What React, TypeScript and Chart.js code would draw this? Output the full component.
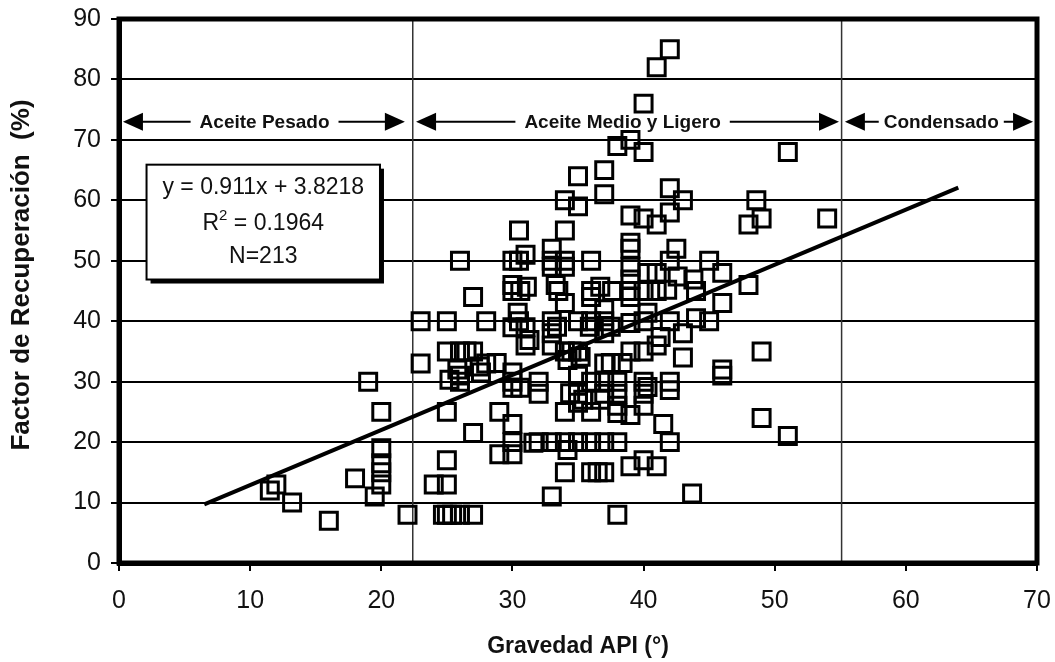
import { useEffect, useRef } from 'react';
import { Chart, registerables } from 'chart.js';

Chart.register(...registerables);

// ---- Data ----
const apiGravity = [
  11.5, 12, 13.2, 16, 18, 19, 19.5, 20, 20, 20, 20, 20, 22,
  23, 23, 24, 25, 25, 25, 25, 25, 25, 26, 26, 26, 26, 26, 26.5, 27, 27, 27, 27, 28, 28, 27.6, 29, 29,
  30, 30, 30, 30, 30, 30, 30, 30, 30, 30, 30.5, 30.5, 30.5, 30.6, 31, 31, 31, 32, 32, 32,
  33, 33, 33, 33, 33, 33, 33, 33, 33.3, 33.5, 34, 34, 34, 34, 34, 34, 34, 34, 34, 34.5, 35, 35, 35, 35, 35, 35, 35, 35,
  36, 36, 36, 36, 36, 36, 36, 36, 37, 37, 37, 37, 37, 37, 37, 37, 37, 37, 37.6, 38, 38, 38, 38, 38, 38,
  39, 39, 39, 39, 39, 39, 39, 39, 39, 39, 40, 40, 40, 40, 40, 40, 40, 40, 40, 40, 41, 41, 41, 41, 41, 41, 41.5,
  42, 42, 42, 42, 42, 42, 42, 42.5, 43, 43, 43, 43.7, 44, 44,
  45, 45, 46, 46, 46, 46, 48, 48, 48.6, 49, 49, 49, 51, 51, 54,
  39, 40.3, 42.6, 43.8, 41.8, 39, 40.3, 41.3, 40.3, 42,
  31.1, 36.7, 33.4, 35.9, 37.5, 28.8, 34.2, 35.2, 37.5, 38.4, 34.4, 35.4, 36.7, 38, 34.2,
  30.4, 25.8, 27.5, 25.2, 31.3, 30.6, 31.6, 36.5, 24.7, 25.4,
];
const recoveryFactor = [
  12, 13, 10, 7, 14, 30, 11, 25, 19, 16.5, 15, 13, 8,
  40, 33, 13, 40, 35, 25, 17, 13, 8, 8, 50, 35, 31, 30, 35, 44, 35, 21.5, 8, 40, 33, 31.5, 25, 18,
  46, 50, 45, 39, 31.5, 30, 29, 23, 20, 18, 55, 50, 40, 45, 51, 36, 39, 20, 28, 30,
  50, 52, 49, 40, 38, 36, 11, 20, 46, 45, 49, 50, 55, 60, 43, 35, 25, 15, 20, 35, 64, 59, 40, 35, 31, 28, 26.5, 20,
  15, 20, 50, 45, 44, 40, 30, 25, 65, 61, 42, 40, 38, 33, 30, 28, 20, 15, 45, 69, 30, 28, 26, 20, 8,
  70, 57.5, 53, 52, 49, 45, 35, 24.5, 16, 44, 76, 68, 57, 45, 40, 35, 30, 26, 17, 28, 82, 56, 48, 45, 36, 16, 23,
  85, 62, 58, 50, 40, 30, 20, 52, 60, 38, 34, 11.5, 45, 40.5,
  50, 40, 48, 43, 32, 31, 46, 56, 60, 57, 35, 24, 21, 68, 57,
  46.9, 48, 47.4, 46.9, 45.2, 39.7, 41.4, 37.4, 29.1, 28.6,
  45.7, 45.7, 39.1, 39.1, 39.1, 33.1, 33.6, 34.1, 33.1, 33.1, 28.1, 27, 27, 24.8, 18.7,
  41.4, 32, 32.5, 30.3, 36.9, 29, 19.9, 15, 8, 8,
];

// Regression line end points
const trendX = [6.5, 64];
const trendY = [9.7, 62.1];

// Axis ticks
const xTicks = [0, 10, 20, 30, 40, 50, 60, 70];
const yTicks = [0, 10, 20, 30, 40, 50, 60, 70, 80, 90];

// Axis titles
const xTitle = 'Gravedad API (°)';
const yTitle = 'Factor de Recuperación  (%)';

// Region annotations
const regionLabels = ['Aceite Pesado', 'Aceite Medio y Ligero', 'Condensado'];
const regionStart = [0.3, 22.65, 55.35];
const regionEnd = [21.8, 54.9, 69.7];
const regionCenter = [11.1, 38.4, 62.7];
const regionLevel = 73;
const boundaries = [22.4, 55.1];

// Equation box
const eqLine1 = 'y = 0.911x + 3.8218';
const eqLine2a = 'R';
const eqLine2sup = '2';
const eqLine2b = ' = 0.1964';
const eqLine3 = 'N=213';
const eqLineY = [62.1, 56.1, 50.7];
const eqBoxX = [2.1, 19.9];
const eqBoxY = [46.9, 65.9];

const FONT = '"Liberation Sans", Arial, Helvetica, sans-serif';

const annotPlugin = {
  id: 'annot',
  beforeDatasetsDraw(chart: any) {
    const { ctx, chartArea: ca, scales } = chart;
    const x = scales.x;
    const y = scales.y;
    ctx.save();
    // boundary lines
    ctx.strokeStyle = '#333';
    ctx.lineWidth = 1.5;
    boundaries.forEach((b) => {
      const px = x.getPixelForValue(b);
      ctx.beginPath();
      ctx.moveTo(px, ca.top);
      ctx.lineTo(px, ca.bottom);
      ctx.stroke();
    });

    // region arrows
    const py = y.getPixelForValue(regionLevel);
    ctx.font = `bold 19px ${FONT}`;
    ctx.textAlign = 'center';
    ctx.textBaseline = 'middle';
    regionLabels.forEach((label, i) => {
      const x1 = x.getPixelForValue(regionStart[i]);
      const x2 = x.getPixelForValue(regionEnd[i]);
      const cx = x.getPixelForValue(regionCenter[i]);
      ctx.strokeStyle = '#000';
      ctx.lineWidth = 2;
      ctx.beginPath();
      ctx.moveTo(x1 + 10, py);
      ctx.lineTo(x2 - 10, py);
      ctx.stroke();
      ctx.fillStyle = '#000';
      ctx.beginPath();
      ctx.moveTo(x1, py);
      ctx.lineTo(x1 + 20, py - 9);
      ctx.lineTo(x1 + 20, py + 9);
      ctx.closePath();
      ctx.fill();
      ctx.beginPath();
      ctx.moveTo(x2, py);
      ctx.lineTo(x2 - 20, py - 9);
      ctx.lineTo(x2 - 20, py + 9);
      ctx.closePath();
      ctx.fill();
      const w = ctx.measureText(label).width;
      const pad = i === 2 ? 5 : 9;
      ctx.fillStyle = '#fff';
      ctx.fillRect(cx - w / 2 - pad, py - 11, w + pad * 2, 22);
      ctx.fillStyle = '#111';
      ctx.fillText(label, cx, py + 1);
    });

    // equation box
    const bx1 = x.getPixelForValue(eqBoxX[0]);
    const bx2 = x.getPixelForValue(eqBoxX[1]);
    const by1 = y.getPixelForValue(eqBoxY[1]);
    const by2 = y.getPixelForValue(eqBoxY[0]);
    ctx.fillStyle = '#000';
    ctx.fillRect(bx1 + 4, by1 + 4, bx2 - bx1, by2 - by1);
    ctx.fillStyle = '#fff';
    ctx.fillRect(bx1, by1, bx2 - bx1, by2 - by1);
    ctx.strokeStyle = '#000';
    ctx.lineWidth = 2;
    ctx.strokeRect(bx1, by1, bx2 - bx1, by2 - by1);
    ctx.font = `23px ${FONT}`;
    ctx.fillStyle = '#111';
    const tcx = (bx1 + bx2) / 2;
    ctx.fillText(eqLine1, tcx, y.getPixelForValue(eqLineY[0]));
    ctx.fillText(eqLine3, tcx, y.getPixelForValue(eqLineY[2]));
    // R^2 line with a real superscript
    const wa = ctx.measureText(eqLine2a).width;
    const wb = ctx.measureText(eqLine2b).width;
    ctx.font = `15px ${FONT}`;
    const ws = ctx.measureText(eqLine2sup).width;
    const total = wa + ws + wb;
    const ly = y.getPixelForValue(eqLineY[1]);
    let sx = tcx - total / 2;
    ctx.textAlign = 'left';
    ctx.font = `23px ${FONT}`;
    ctx.fillText(eqLine2a, sx, ly);
    sx += wa;
    ctx.font = `15px ${FONT}`;
    ctx.fillText(eqLine2sup, sx, ly - 8);
    sx += ws;
    ctx.font = `23px ${FONT}`;
    ctx.fillText(eqLine2b, sx, ly);
    ctx.restore();
  },
  afterDatasetsDraw(chart: any) {
    const { ctx, chartArea: ca } = chart;
    ctx.save();
    ctx.strokeStyle = '#000';
    ctx.lineWidth = 5;
    ctx.strokeRect(ca.left, ca.top, ca.right - ca.left, ca.bottom - ca.top);
    // y axis title
    ctx.translate(22, 275);
    ctx.rotate(-Math.PI / 2);
    ctx.font = `bold 26px ${FONT}`;
    ctx.fillStyle = '#111';
    ctx.textAlign = 'center';
    ctx.textBaseline = 'middle';
    ctx.fillText(yTitle, 0, 0);
    ctx.restore();
  },
};

export default function App() {
  const ref = useRef<HTMLCanvasElement | null>(null);

  useEffect(() => {
    document.body.style.margin = '0';
    const canvas = ref.current;
    if (!canvas) return;
    const points = apiGravity.map((v, i) => ({ x: v, y: recoveryFactor[i] }));
    const trend = trendX.map((v, i) => ({ x: v, y: trendY[i] }));
    const chart = new Chart(canvas, {
      type: 'scatter',
      data: {
        datasets: [
          {
            type: 'line',
            data: trend,
            borderColor: '#000',
            borderWidth: 4,
            pointRadius: 0,
            showLine: true,
            fill: false,
            order: 0,
          } as any,
          {
            data: points,
            pointStyle: 'rect',
            pointRadius: 12,
            borderWidth: 3,
            borderColor: '#000',
            backgroundColor: 'rgba(0,0,0,0)',
            order: 1,
          },
        ],
      },
      options: {
        animation: false,
        responsive: false,
        events: [],
        layout: { padding: { top: 19, right: 18, left: 0, bottom: 0 } },
        plugins: { legend: { display: false }, tooltip: { enabled: false } },
        scales: {
          x: {
            type: 'linear',
            min: 0,
            max: 70,
            afterBuildTicks: (s: any) => {
              s.ticks = xTicks.map((v) => ({ value: v }));
            },
            afterFit: (s: any) => {
              s.height = 99;
              s.paddingLeft = 0;
              s.paddingRight = 0;
              s.paddingTop = 0;
              s.paddingBottom = 0;
            },
            ticks: {
              color: '#111',
              font: { family: FONT, size: 25 },
              padding: 15,
              maxRotation: 0,
            },
            grid: {
              drawOnChartArea: false,
              drawTicks: true,
              tickLength: 8,
              color: '#000',
              lineWidth: 2,
            },
            border: { display: true, color: '#000', width: 5 },
            title: {
              display: true,
              text: xTitle,
              color: '#111',
              font: { family: FONT, size: 23, weight: 'bold' },
              padding: { top: 0, bottom: 2 },
            },
          },
          y: {
            type: 'linear',
            min: 0,
            max: 90,
            afterBuildTicks: (s: any) => {
              s.ticks = yTicks.map((v) => ({ value: v }));
            },
            afterFit: (s: any) => {
              s.width = 119;
              s.paddingLeft = 0;
              s.paddingRight = 0;
              s.paddingTop = 0;
              s.paddingBottom = 0;
            },
            ticks: {
              color: '#111',
              font: { family: FONT, size: 25 },
              padding: 10,
            },
            grid: {
              drawTicks: true,
              tickLength: 8,
              color: '#000',
              lineWidth: 2,
            },
            border: { display: true, color: '#000', width: 5 },
          },
        },
      },
      plugins: [annotPlugin],
    } as any);
    return () => chart.destroy();
  }, []);

  return (
    <div style={{ width: 1055, height: 662, position: 'relative' }}>
      <canvas ref={ref} width={1055} height={662} style={{ display: 'block' }} />
    </div>
  );
}
